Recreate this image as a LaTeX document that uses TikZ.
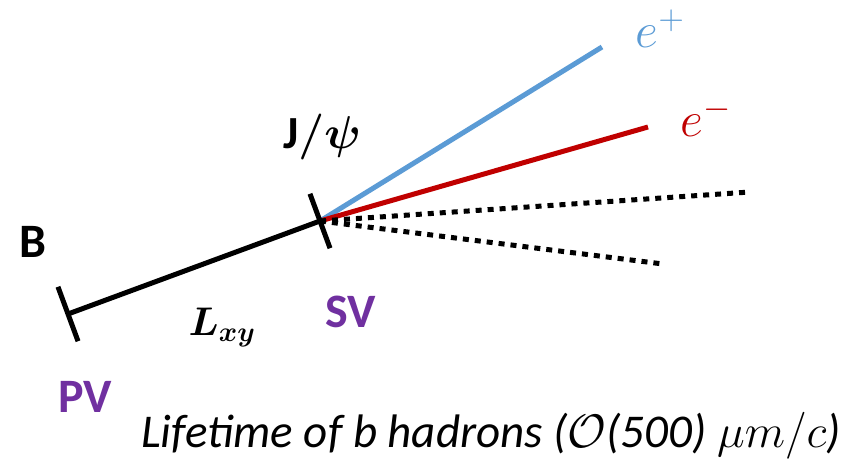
\RequirePackage{fix-cm}
\documentclass[tikz,border=0pt]{standalone}
\usepackage{amsmath}
\usepackage{bm}
\usepackage{fontspec}
\setmainfont{Carlito}
\usetikzlibrary{calc}
\definecolor{eblue}{HTML}{5B9BD5}
\definecolor{ered}{HTML}{C00000}
\definecolor{vpurple}{HTML}{7030A0}
\tikzset{
  track/.style={line width=5pt},
  tick/.style={line width=5pt},
  neutral/.style={line width=5pt, dash pattern=on 6pt off 6pt},
  lbl/.style={inner sep=0pt, font=\bfseries\fontsize{48}{52}\selectfont},
  vtx/.style={lbl, text=vpurple},
  mlbl/.style={inner sep=0pt, font=\fontsize{50}{54}\selectfont},
}
\begin{document}
\begin{tikzpicture}[x=1pt,y=-1pt]
\useasboundingbox (0,0) rectangle (860,463);
\coordinate (pv) at (68,314);
\coordinate (sv) at (320,221);
\coordinate (ep) at (602,47);
\coordinate (em) at (648,127);
\coordinate (n1) at (750,192);
\coordinate (n2) at (663,264);
% tracks
\draw[track] (pv) -- (sv);
\draw[track, eblue] (sv) -- (ep);
\draw[track, ered] (sv) -- (em);
\draw[neutral] (sv) -- (n1);
\draw[neutral] (sv) -- (n2);
% vertex ticks
\draw[tick] ($(pv)!29pt!90:(sv)$) -- ($(pv)!29pt!-90:(sv)$);
\draw[tick] ($(sv)!29pt!90:(pv)$) -- ($(sv)!29pt!-90:(pv)$);
% labels
\node[lbl] (b) at (33,242) {B};
\node[vtx] (pvl) at (85,397) {PV};
\node[vtx] (svl) at (351,312) {SV};
\node[inner sep=0pt, font=\fontsize{40}{44}\selectfont] (lxy) at (222,327) {$\bm{L_{xy}}$};
\node[inner sep=0pt, font=\fontsize{46}{50}\selectfont] (jpsi) at (322,137) {\textbf{J}$\bm{/\psi}$};
\node[mlbl, text=eblue] (epl) at (660,29) {$e^{+}$};
\node[mlbl, text=ered] (eml) at (706,117) {$e^{-}$};
\node[inner sep=0pt, anchor=base, font=\itshape\fontsize{47}{50}\selectfont] (life) at (491,447) {Lifetime of b hadrons ($\mathcal{O}$(500) $\mu m/c$)};
\end{tikzpicture}
\end{document}
